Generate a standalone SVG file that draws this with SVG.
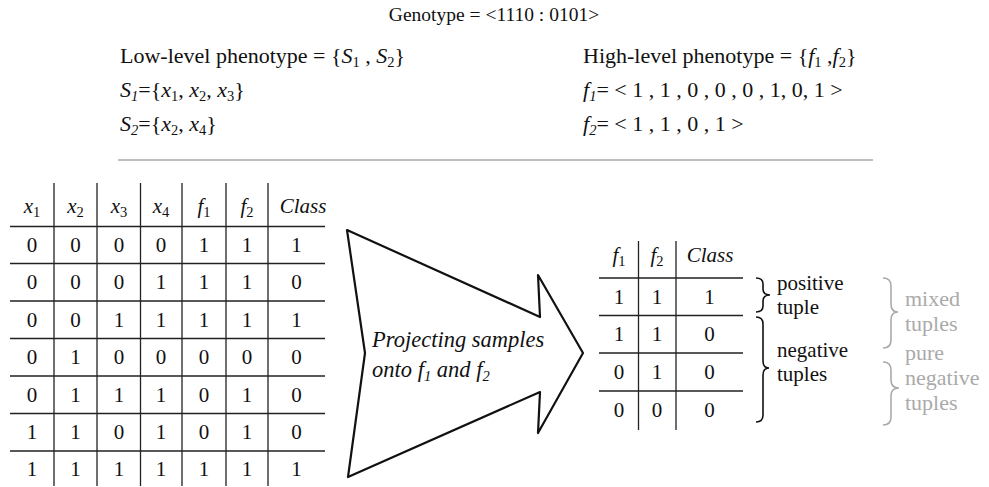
<svg xmlns="http://www.w3.org/2000/svg" width="989" height="487" viewBox="0 0 989 487" font-family="'Liberation Serif', 'DejaVu Serif', serif">
  <style>
    text { font-family: 'Liberation Serif', 'DejaVu Serif', serif; font-size: 22px; fill: #111; }
    .it { font-style: italic; }
    .sub { font-size: 14.5px; }
    .mid { text-anchor: middle; }
    .cell { font-size: 21px; }
    .note { font-size: 21px; }
    .grid { stroke: #222; stroke-width: 1.3; fill: none; }
    .brace { fill: none; stroke: #111; stroke-width: 1.6; }
    .gbrace { fill: none; stroke: #aaa; stroke-width: 1.6; }
    .gtxt { fill: #aaa; }
  </style>

  <!-- header definitions -->
  <g id="genotype">
    <text x="494" y="21" class="mid" style="font-size:19.5px">Genotype = &lt;1110 : 0101&gt;</text>
  </g>
  <g id="low-level">
    <text x="120" y="63">Low-level phenotype = {<tspan class="it">S</tspan><tspan class="sub" dy="4">1</tspan><tspan dy="-4"> , </tspan><tspan class="it">S</tspan><tspan class="sub" dy="4">2</tspan><tspan dy="-4">}</tspan></text>
    <text x="120" y="97"><tspan class="it">S</tspan><tspan class="sub it" dy="4">1</tspan><tspan dy="-4">={</tspan><tspan class="it">x</tspan><tspan class="sub" dy="4">1</tspan><tspan dy="-4">, </tspan><tspan class="it">x</tspan><tspan class="sub" dy="4">2</tspan><tspan dy="-4">, </tspan><tspan class="it">x</tspan><tspan class="sub" dy="4">3</tspan><tspan dy="-4">}</tspan></text>
    <text x="120" y="131"><tspan class="it">S</tspan><tspan class="sub it" dy="4">2</tspan><tspan dy="-4">={</tspan><tspan class="it">x</tspan><tspan class="sub" dy="4">2</tspan><tspan dy="-4">, </tspan><tspan class="it">x</tspan><tspan class="sub" dy="4">4</tspan><tspan dy="-4">}</tspan></text>
  </g>
  <g id="high-level">
    <text x="583" y="63">High-level phenotype = {<tspan class="it">f</tspan><tspan class="sub" dy="4">1</tspan><tspan dy="-4"> ,</tspan><tspan class="it">f</tspan><tspan class="sub" dy="4">2</tspan><tspan dy="-4">}</tspan></text>
    <text x="583" y="97"><tspan class="it">f</tspan><tspan class="sub it" dy="4">1</tspan><tspan dy="-4">= &lt; 1 , 1 , 0 , 0 , 0 , 1, 0, 1  &gt;</tspan></text>
    <text x="583" y="131"><tspan class="it">f</tspan><tspan class="sub it" dy="4">2</tspan><tspan dy="-4">= &lt; 1 , 1 , 0 , 1  &gt;</tspan></text>
  </g>
  <line x1="118" y1="160" x2="873" y2="160" stroke="#aaa" stroke-width="1.5"/>

  <!-- full sample table -->
  <g id="sample-table">
    <path class="grid" d="M10 226.5H325M10 263.5H325M10 301H325M10 338.5H325M10 376H325M10 413.5H325M10 451H325"/>
    <path class="grid" d="M54 183V486M97 183V486M140.5 183V486M182 183V486M226 183V486M268 183V486"/>
    <g class="mid">
      <text class="cell" x="32" y="213"><tspan class="it">x</tspan><tspan class="sub" dy="4">1</tspan></text>
      <text class="cell" x="75.5" y="213"><tspan class="it">x</tspan><tspan class="sub" dy="4">2</tspan></text>
      <text class="cell" x="119" y="213"><tspan class="it">x</tspan><tspan class="sub" dy="4">3</tspan></text>
      <text class="cell" x="161" y="213"><tspan class="it">x</tspan><tspan class="sub" dy="4">4</tspan></text>
      <text class="cell" x="204" y="213"><tspan class="it">f</tspan><tspan class="sub" dy="4">1</tspan></text>
      <text class="cell" x="247" y="213"><tspan class="it">f</tspan><tspan class="sub" dy="4">2</tspan></text>
      <text class="cell it" x="303" y="213">Class</text>
    </g>
    <g class="mid">
      <text class="cell" y="252"><tspan x="32">0</tspan><tspan x="75.5">0</tspan><tspan x="119">0</tspan><tspan x="161">0</tspan><tspan x="204">1</tspan><tspan x="247">1</tspan><tspan x="296.5">1</tspan></text>
      <text class="cell" y="289"><tspan x="32">0</tspan><tspan x="75.5">0</tspan><tspan x="119">0</tspan><tspan x="161">1</tspan><tspan x="204">1</tspan><tspan x="247">1</tspan><tspan x="296.5">0</tspan></text>
      <text class="cell" y="327"><tspan x="32">0</tspan><tspan x="75.5">0</tspan><tspan x="119">1</tspan><tspan x="161">1</tspan><tspan x="204">1</tspan><tspan x="247">1</tspan><tspan x="296.5">1</tspan></text>
      <text class="cell" y="364"><tspan x="32">0</tspan><tspan x="75.5">1</tspan><tspan x="119">0</tspan><tspan x="161">0</tspan><tspan x="204">0</tspan><tspan x="247">0</tspan><tspan x="296.5">0</tspan></text>
      <text class="cell" y="402"><tspan x="32">0</tspan><tspan x="75.5">1</tspan><tspan x="119">1</tspan><tspan x="161">1</tspan><tspan x="204">0</tspan><tspan x="247">1</tspan><tspan x="296.5">0</tspan></text>
      <text class="cell" y="439"><tspan x="32">1</tspan><tspan x="75.5">1</tspan><tspan x="119">0</tspan><tspan x="161">1</tspan><tspan x="204">0</tspan><tspan x="247">1</tspan><tspan x="296.5">0</tspan></text>
      <text class="cell" y="476"><tspan x="32">1</tspan><tspan x="75.5">1</tspan><tspan x="119">1</tspan><tspan x="161">1</tspan><tspan x="204">1</tspan><tspan x="247">1</tspan><tspan x="296.5">1</tspan></text>
    </g>
  </g>

  <!-- projection arrow -->
  <g id="projection-arrow">
    <path d="M347 230L540 317L538 275L583 353L538 433L540 392L348 477L365 353Z" fill="#fff" stroke="#111" stroke-width="2.2" stroke-linejoin="round"/>
    <text x="372" y="347" class="it" style="font-size:22.5px">Projecting samples</text>
    <text x="372" y="377" class="it" style="font-size:22.5px">onto <tspan>f</tspan><tspan class="sub" dy="4">1</tspan><tspan dy="-4"> and </tspan><tspan>f</tspan><tspan class="sub" dy="4">2</tspan></text>
  </g>

  <!-- projected table -->
  <g id="projected-table">
    <path class="grid" d="M599 278H743M599 315.5H743M599 353H743M599 391H743"/>
    <path class="grid" d="M638.5 241V430M676 241V430"/>
    <g class="mid">
      <text class="cell" x="619" y="262"><tspan class="it">f</tspan><tspan class="sub" dy="4">1</tspan></text>
      <text class="cell" x="657" y="262"><tspan class="it">f</tspan><tspan class="sub" dy="4">2</tspan></text>
      <text class="cell it" x="710" y="262">Class</text>
      <text class="cell" y="304"><tspan x="619">1</tspan><tspan x="657">1</tspan><tspan x="709.5">1</tspan></text>
      <text class="cell" y="341"><tspan x="619">1</tspan><tspan x="657">1</tspan><tspan x="709.5">0</tspan></text>
      <text class="cell" y="379"><tspan x="619">0</tspan><tspan x="657">1</tspan><tspan x="709.5">0</tspan></text>
      <text class="cell" y="417"><tspan x="619">0</tspan><tspan x="657">0</tspan><tspan x="709.5">0</tspan></text>
    </g>
  </g>

  <!-- tuple groupings -->
  <g id="positive-tuple">
    <path class="brace" d="M756 278Q763 278 763 284L763 289Q763 295 770 295Q763 295 763 301L763 306Q763 312 756 312"/>
    <text class="note" x="777" y="290">positive</text>
    <text class="note" x="777" y="313.5">tuple</text>
  </g>
  <g id="negative-tuples">
    <path class="brace" d="M756 317Q763 317 763 324L763 361Q763 368 769 368Q763 368 763 375L763 415Q763 422 756 422"/>
    <text class="note" x="777" y="357">negative</text>
    <text class="note" x="777" y="380.5">tuples</text>
  </g>
  <g id="mixed-tuples">
    <path class="gbrace" d="M883 278Q891 278 891 286L891 304Q891 312 898 312Q891 312 891 320L891 340Q891 348 883 348"/>
    <text x="905" y="306" class="gtxt">mixed</text>
    <text x="905" y="331" class="gtxt">tuples</text>
  </g>
  <g id="pure-negative-tuples">
    <path class="gbrace" d="M883 362Q891 362 891 370L891 380Q891 388 899 388Q891 388 891 396L891 417Q891 425 883 425"/>
    <text x="905" y="360" class="gtxt">pure</text>
    <text x="905" y="385" class="gtxt">negative</text>
    <text x="905" y="410" class="gtxt">tuples</text>
  </g>
</svg>
